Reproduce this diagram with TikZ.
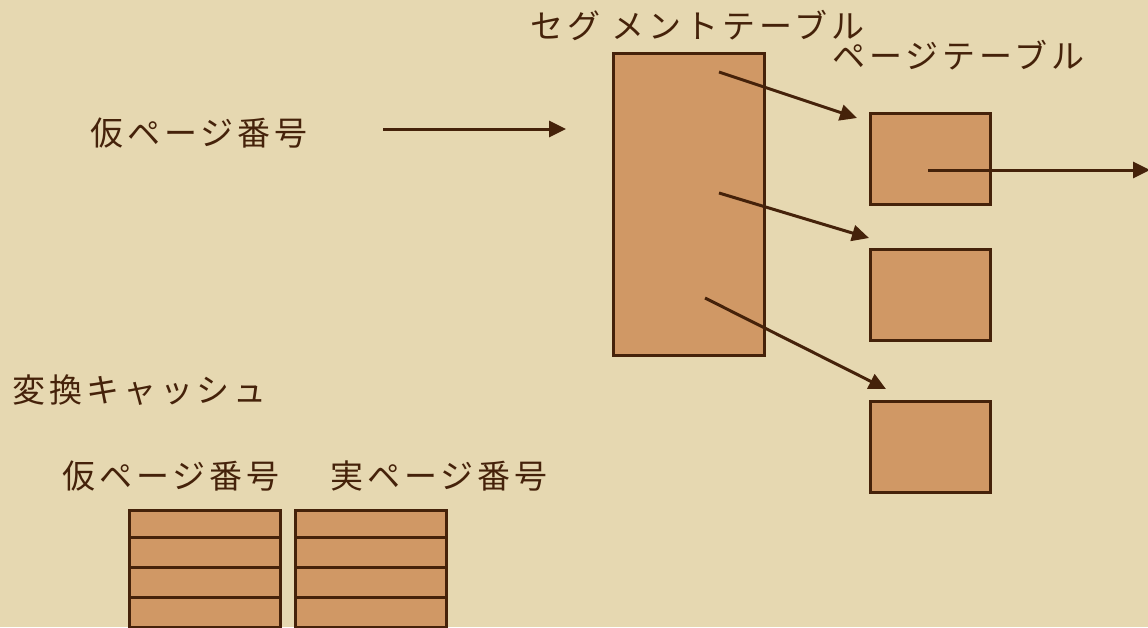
\documentclass[tikz,border=0pt]{standalone}
\usepackage{fontspec}
\newfontfamily\jp[LetterSpace=12]{Noto Sans CJK JP}
\usetikzlibrary{arrows.meta}
\definecolor{bg}{HTML}{E6D8B1}
\definecolor{fillc}{HTML}{D09865}
\definecolor{ink}{HTML}{45220A}
\tikzset{
  box/.style={draw=ink, fill=fillc, line width=3pt, inner sep=0pt, outer sep=0pt},
  lbl/.style={text=ink, font=\jp\fontsize{33}{36}\selectfont, inner sep=0pt, anchor=west},
  conn/.style={draw=ink, line width=3pt, -{Triangle[length=17pt,width=16pt]}}
}
\begin{document}
\begin{tikzpicture}[x=1pt,y=-1pt]
\fill[bg] (0,0) rectangle (1148,627);
\useasboundingbox (0,0) rectangle (1148,627);
% labels
\node[lbl] (vp) at (90,133) {仮ページ番号};
\node[lbl] (segl) at (530,25) {セグ メントテーブル};
\node[lbl] (pgl) at (832,55) {ページテーブル};
\node[lbl] (tc) at (12,390) {変換キャッシュ};
\node[lbl] (cv) at (62,476) {仮ページ番号};
\node[lbl] (cr) at (330,476) {実ページ番号};
% segment table
\node[box, minimum width=151pt, minimum height=302pt] (seg) at (688.5,204) {};
% page tables
\node[box, minimum width=120pt, minimum height=91pt] (p1) at (930,158.5) {};
\node[box, minimum width=120pt, minimum height=91pt] (p2) at (930,295) {};
\node[box, minimum width=120pt, minimum height=91pt] (p3) at (930,446.5) {};
% cache table
\foreach \i/\y in {1/510,2/537,3/567,4/597}{
  \node[box, minimum width=151pt, minimum height=30pt, anchor=north west] (cl\i) at (129,\y) {};
  \node[box, minimum width=151pt, minimum height=30pt, anchor=north west] (cr\i) at (295,\y) {};
}
% connectors
\coordinate (a0) at (383,129);
\coordinate (a1) at (566,129);
\draw[conn] (a0) -- (a1);
\coordinate (s1) at (719,72);
\coordinate (e1) at (857,118);
\draw[conn] (s1) -- (e1);
\coordinate (s2) at (719,193);
\coordinate (e2) at (869,238);
\draw[conn] (s2) -- (e2);
\coordinate (s3) at (705,298);
\coordinate (e3) at (886,389);
\draw[conn] (s3) -- (e3);
\coordinate (s4) at (928,170);
\coordinate (e4) at (1150,170);
\draw[conn] (s4) -- (e4);
\end{tikzpicture}
\end{document}
